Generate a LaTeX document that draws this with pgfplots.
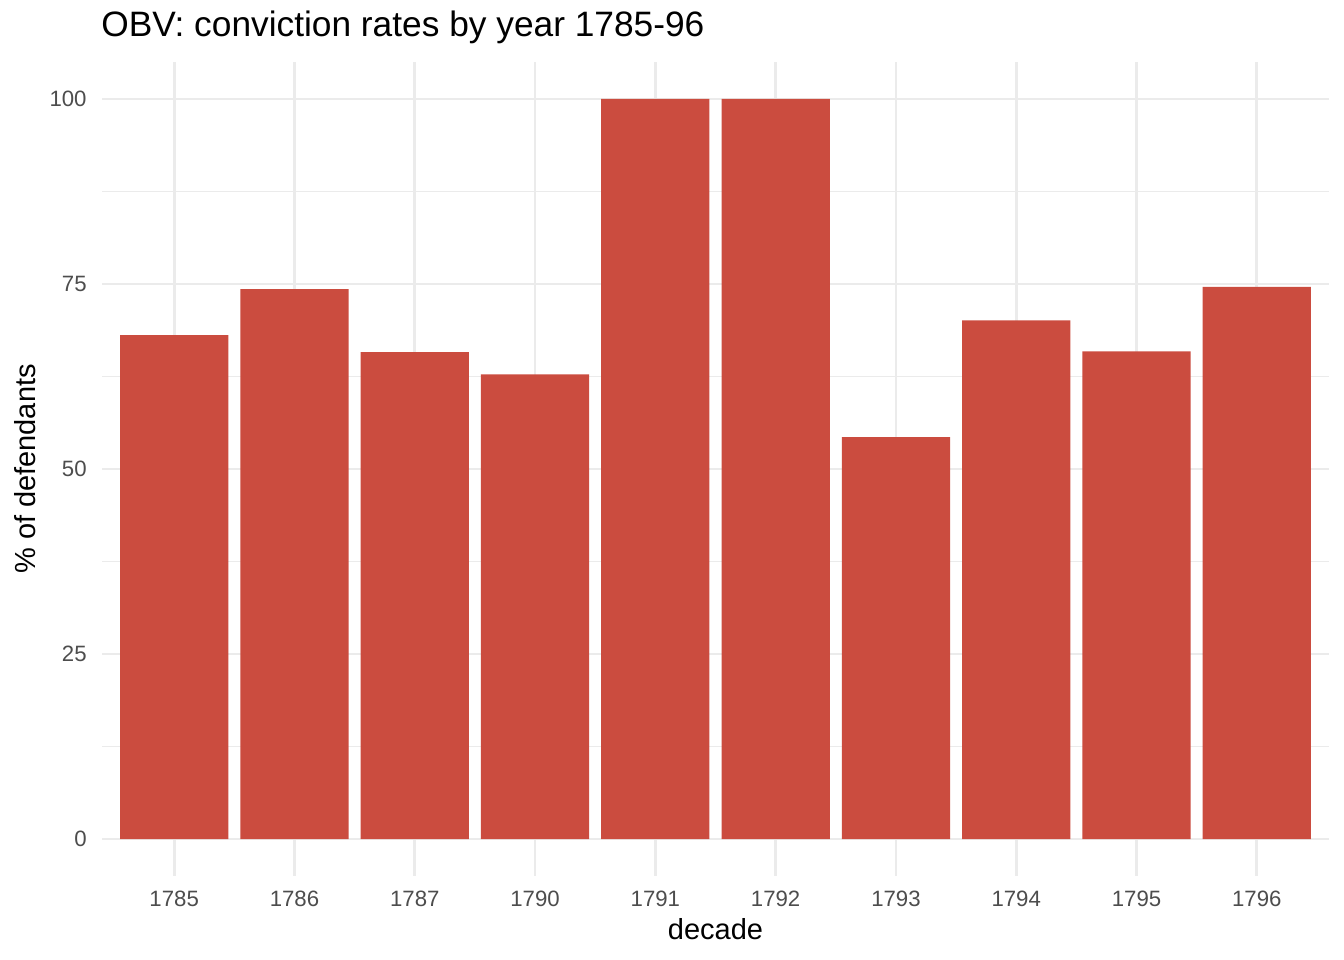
\documentclass[border=0pt]{standalone}
\usepackage{pgfplots}
\pgfplotsset{compat=1.18}
\usepackage{fontspec}
\setmainfont{Liberation Sans}
\definecolor{barred}{HTML}{CB4C3F}
\definecolor{gridc}{HTML}{EBEBEB}
\definecolor{tickc}{HTML}{4D4D4D}
\begin{document}
\begin{tikzpicture}
\useasboundingbox (-51bp,-42bp) rectangle (621bp,438bp);
\begin{axis}[
  at={(0,0)}, anchor=south west,
  scale only axis,
  width=613.5bp, height=407bp,
  xmin=-0.6, xmax=9.6, ymin=-5, ymax=105,
  axis line style={draw=none},
  xtick={0,...,9},
  xticklabels={1785,1786,1787,1790,1791,1792,1793,1794,1795,1796},
  ytick={0,25,50,75,100},
  minor ytick={12.5,37.5,62.5,87.5},
  major tick length=0pt, minor tick length=0pt,
  xmajorgrids, ymajorgrids, yminorgrids,
  major grid style={draw=gridc, line width=1.4bp},
  minor grid style={draw=gridc, line width=0.7bp},
  tick label style={font=\fontsize{11.1bp}{13bp}\selectfont, text=tickc, inner sep=0pt},
  xticklabel style={anchor=base, yshift=-15bp},
  yticklabel style={anchor=east, xshift=-7.5bp},
  /pgf/number format/assume math mode=true,
  xlabel={decade},
  ylabel={\% of defendants},
  label style={font=\fontsize{14.5bp}{17bp}\selectfont, inner sep=0pt},
  xlabel style={at={(axis description cs:0.5,-0.0774)}, anchor=base},
  ylabel style={at={(axis description cs:-0.0538,0.5)}, anchor=base},
  clip=false,
]
\addplot[ybar, bar width=0.9, fill=barred, draw=none] coordinates {
  (0,68.1) (1,74.3) (2,65.8) (3,62.8) (4,100) (5,100) (6,54.3) (7,70.1) (8,65.9) (9,74.6)
};
\end{axis}
\node[anchor=base west, inner sep=0pt, font=\fontsize{17.65bp}{20bp}\selectfont] at (-0.5bp,419.5bp) {OBV: conviction rates by year 1785-96};
\end{tikzpicture}
\end{document}
